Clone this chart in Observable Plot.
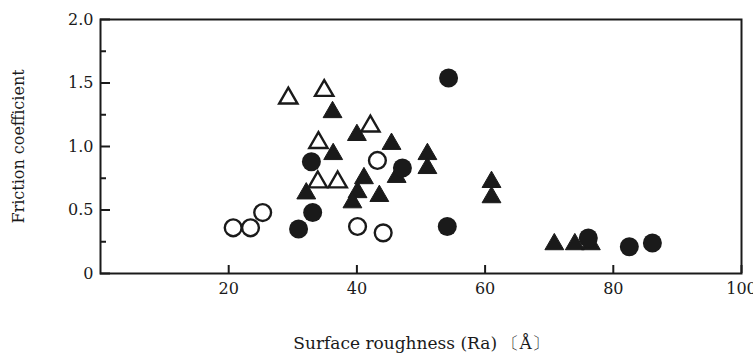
<!DOCTYPE html>
<html>
<head>
<meta charset="utf-8">
<script src="https://cdn.jsdelivr.net/npm/d3@7"></script>
<script src="https://cdn.jsdelivr.net/npm/@observablehq/plot@0.6"></script>
<style>
  html, body { margin: 0; padding: 0; background: #fff; }
  #chart { width: 753px; height: 360px; }
</style>
</head>
<body>
<div id="chart"></div>
<script>
// ---- data ----
const xLabel = "Surface roughness (Ra) 〔Å〕";
const yLabel = "Friction coefficient";
const xTicks = [20, 40, 60, 80, 100];
const yMajorTicks = [0, 0.5, 1.0, 1.5, 2.0];
const yMinorTicks = [0.25, 0.75, 1.25, 1.75];

const openCircleX = [20.7, 23.4, 25.3, 40.1, 43.2, 44.1];
const openCircleY = [0.36, 0.36, 0.48, 0.37, 0.89, 0.32];

const filledCircleX = [30.9, 33.1, 32.9, 47.1, 54.3, 54.1, 76.1, 82.5, 86.1];
const filledCircleY = [0.35, 0.48, 0.88, 0.83, 1.54, 0.37, 0.28, 0.21, 0.24];

const openTriangleX = [29.3, 34.9, 34.0, 33.9, 37.0, 42.1];
const openTriangleY = [1.38, 1.44, 1.03, 0.72, 0.72, 1.16];

const filledTriangleX = [36.2, 36.3, 40.0, 45.4, 51.0, 51.0, 32.1, 41.1, 40.1, 39.3, 43.5, 46.2, 61.0, 61.0, 70.8, 74.0, 76.5];
const filledTriangleY = [1.27, 0.94, 1.09, 1.02, 0.94, 0.83, 0.63, 0.75, 0.64, 0.56, 0.61, 0.76, 0.72, 0.60, 0.23, 0.23, 0.23];

const toRows = (xs, ys) => xs.map((x, i) => ({x, y: ys[i]}));
const openCircles = toRows(openCircleX, openCircleY);
const filledCircles = toRows(filledCircleX, filledCircleY);
const openTriangles = toRows(openTriangleX, openTriangleY);
const filledTriangles = toRows(filledTriangleX, filledTriangleY);

const ink = "#1a1a1a";

const chart = Plot.plot({
  width: 753,
  height: 360,
  marginLeft: 100,
  marginRight: 12,
  marginTop: 19,
  marginBottom: 87,
  style: {fontFamily: "DejaVu Serif", fontSize: "16px", color: ink, background: "#fff"},
  x: {domain: [0, 100]},
  y: {domain: [0, 2]},
  marks: [
    Plot.frame({stroke: ink, strokeWidth: 2}),
    Plot.axisX({ticks: xTicks, tickSize: -8, tickPadding: 17, strokeWidth: 2, label: null,
                tickFormat: d => String(d), fontSize: 16}),
    Plot.axisY({ticks: yMajorTicks, tickSize: -10, tickPadding: 17, strokeWidth: 2, label: null,
                tickFormat: d => d === 0 ? "0" : d.toFixed(1), fontSize: 16}),
    Plot.axisY({ticks: yMinorTicks, tickSize: -6, strokeWidth: 2, label: null, tickFormat: () => ""}),
    Plot.dot(filledTriangles, {x: "x", y: "y", symbol: "triangle", r: 7, fill: ink, stroke: ink, strokeWidth: 1}),
    Plot.dot(openTriangles, {x: "x", y: "y", symbol: "triangle", r: 6.8, fill: "#fff", stroke: ink, strokeWidth: 2.4}),
    Plot.dot(openCircles, {x: "x", y: "y", symbol: "circle", r: 8.4, fill: "#fff", stroke: ink, strokeWidth: 2.4}),
    Plot.dot(filledCircles, {x: "x", y: "y", symbol: "circle", r: 9.5, fill: ink}),
    Plot.text([yLabel], {frameAnchor: "left", textAnchor: "middle", rotate: -90, dx: -82, fontSize: 16, fill: ink}),
    Plot.text([xLabel], {frameAnchor: "bottom", textAnchor: "middle", dy: 75, fontSize: 17, fill: ink})
  ]
});
document.getElementById("chart").appendChild(chart);
</script>
</body>
</html>
